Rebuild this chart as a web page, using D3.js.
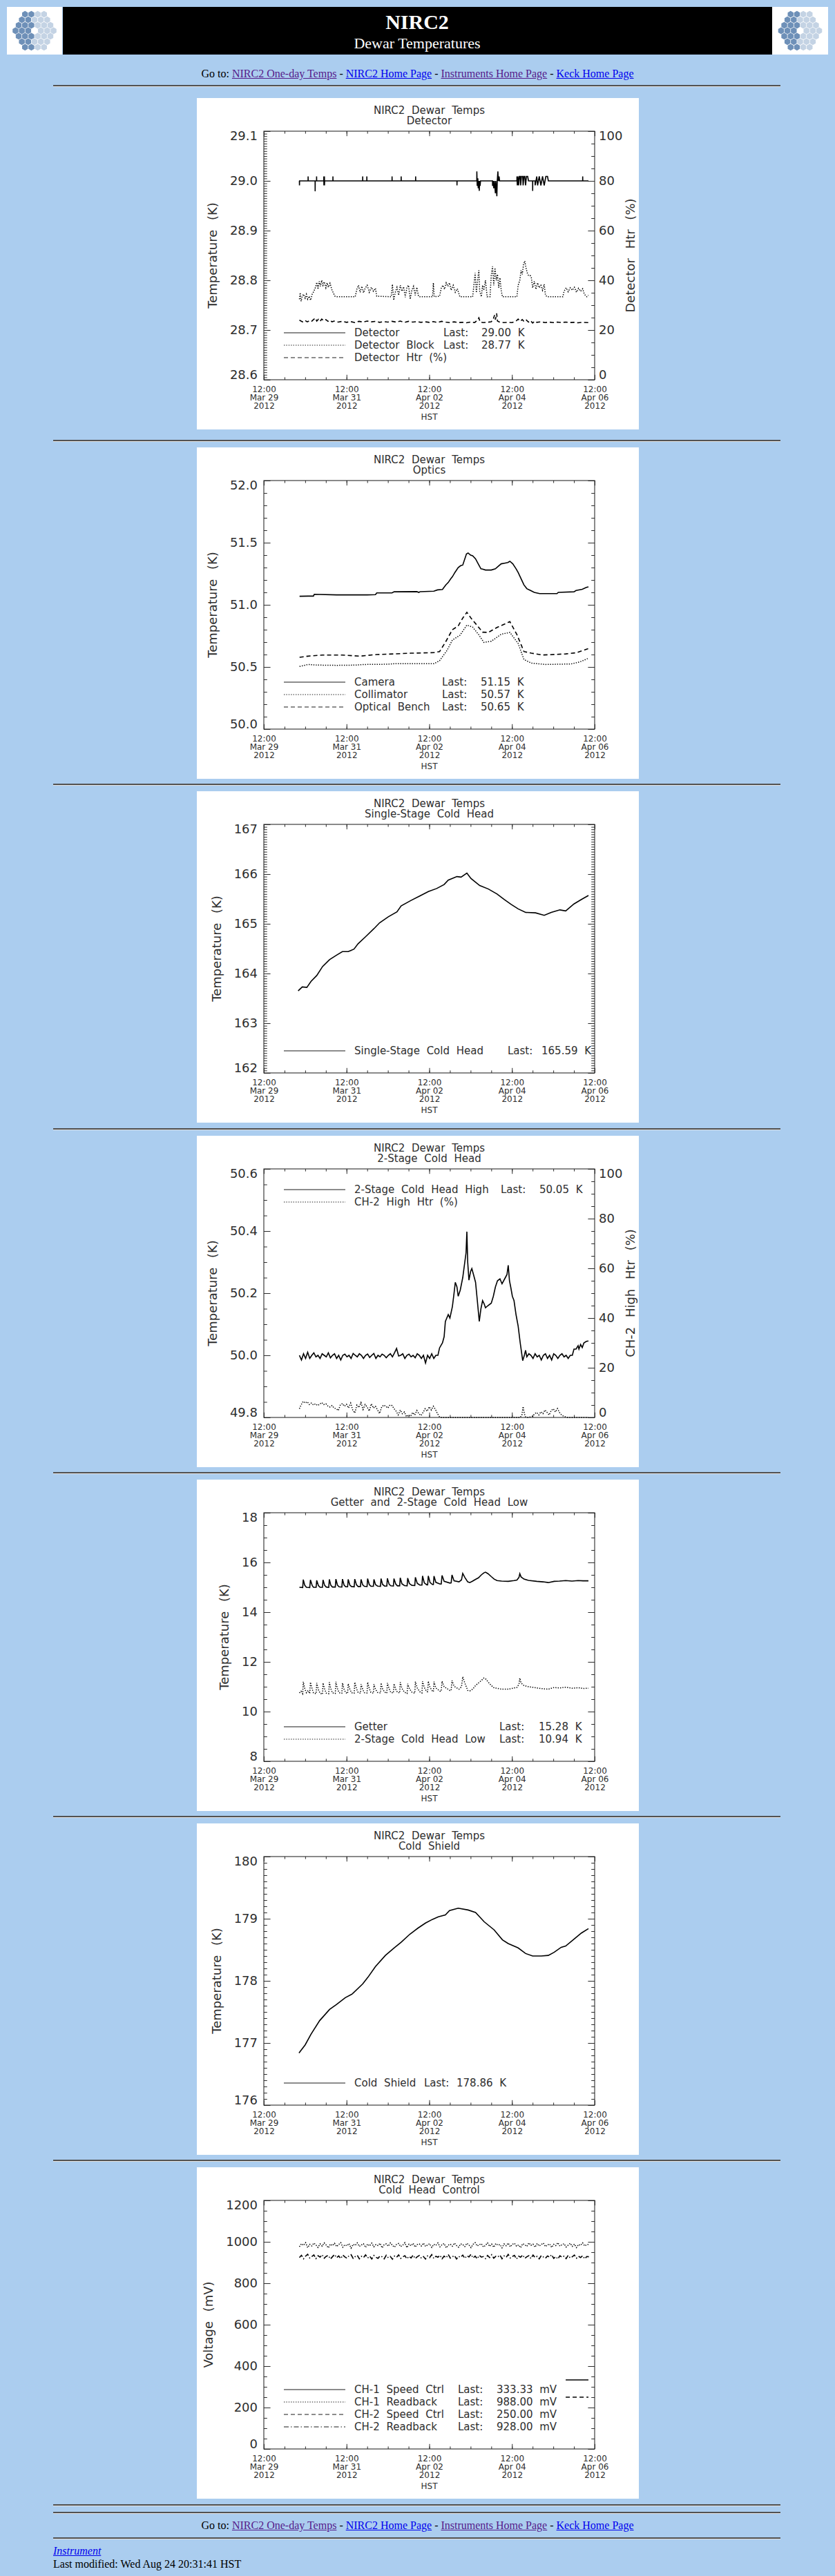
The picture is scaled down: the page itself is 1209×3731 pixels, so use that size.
<!DOCTYPE html>
<html lang="en">
<head>
<meta charset="UTF-8">
<title>NIRC2 Dewar Temperatures</title>
<script src="https://d3js.org/d3.v7.min.js"></script>
<style>
  body { margin: 0; background: #abcdef; font-family: "Liberation Serif", "Times New Roman", serif; }
  #page { position: relative; width: 1209px; height: 3731px; overflow: hidden; }
  .rule { position: absolute; left: 77px; width: 1053px; height: 0; border-top: 2px solid #525252; border-bottom: 1px solid #e2e2e2; }
  .goto { position: absolute; left: 0; width: 1209px; text-align: center; font-size: 16px; line-height: 20px; }
  a { color: #0000ee; }
  a.seen { color: #551a8b; }
  .plot { position: absolute; left: 285px; display: block; background: #fff; }
  .plot text { font-family: "DejaVu Sans", sans-serif; fill: #2e2e2e; word-spacing: 5px; }
  .plot .ylab { font-size: 18px; word-spacing: 0; }
  .plot .xlab { font-size: 12px; word-spacing: 0; }
</style>
</head>
<body>
<div id="page"></div>
<script>
// all times are days after 12:00 Mar 29 2012 HST
const t0 = Date.UTC(2012, 2, 29, 12);
const t1 = Date.UTC(2012, 3, 6, 12);

// ---------- Detector ----------
const detectorK = [[0.86,29.0],[0.862,28.991],[0.864,29.0],[1.07,29.0],[1.071,29.009],[1.073,29.0],[1.24,29.0],[1.241,28.979],[1.243,29.0],[1.275,29.0],[1.276,29.009],[1.278,29.0],[1.45,29.0],[1.451,29.009],[1.453,28.991],[1.465,29.009],[1.467,28.991],[1.47,29.0],[1.67,29.0],[1.671,29.009],[1.673,29.0],[2.39,29.0],[2.391,29.009],[2.393,29.0],[2.49,29.0],[2.491,29.009],[2.493,29.0],[3.1,29.0],[3.101,29.009],[3.103,29.0],[3.32,29.0],[3.321,29.009],[3.323,29.0],[3.67,29.0],[3.671,29.009],[3.673,29.0],[4.67,29.0],[4.671,28.991],[4.673,29.0],[5.15,29.0],[5.151,29.019],[5.16,28.99],[5.175,29.005],[5.185,28.985],[5.2,29.0],[5.21,28.98],[5.22,29.0],[5.23,28.99],[5.24,29.0],[5.53,29.0],[5.531,28.99],[5.545,29.0],[5.56,28.985],[5.575,29.0],[5.6,28.975],[5.61,29.0],[5.635,28.969],[5.645,29.0],[5.66,29.019],[5.67,29.0],[5.69,29.009],[5.7,29.0],[6.12,29.0],[6.121,29.009],[6.13,28.991],[6.145,29.009],[6.16,28.991],[6.18,29.009],[6.2,29.009],[6.21,28.991],[6.23,29.009],[6.26,29.009],[6.27,28.991],[6.29,29.009],[6.31,29.009],[6.33,28.991],[6.35,29.009],[6.38,29.009],[6.4,29.0],[6.5,29.0],[6.501,28.98],[6.503,29.0],[6.56,29.0],[6.561,28.991],[6.6,29.009],[6.62,28.991],[6.66,29.009],[6.7,28.991],[6.74,29.009],[6.78,28.991],[6.82,29.009],[6.86,29.009],[6.88,29.0],[7.71,29.0],[7.711,29.009],[7.713,29.0],[7.85,29.0]];
const detectorBlockK = [[0.86,28.762],[0.88,28.775],[0.9,28.758],[0.93,28.768],[0.96,28.772],[1.0,28.764],[1.03,28.772],[1.06,28.762],[1.1,28.768],[1.13,28.76],[1.17,28.772],[1.21,28.778],[1.25,28.786],[1.28,28.796],[1.31,28.782],[1.34,28.798],[1.37,28.788],[1.4,28.8],[1.43,28.79],[1.46,28.797],[1.5,28.785],[1.53,28.795],[1.56,28.786],[1.6,28.794],[1.65,28.78],[1.72,28.768],[1.76,28.767],[2.21,28.767],[2.25,28.782],[2.29,28.79],[2.33,28.776],[2.37,28.788],[2.41,28.775],[2.45,28.784],[2.5,28.79],[2.55,28.776],[2.6,28.786],[2.65,28.778],[2.7,28.784],[2.73,28.768],[3.08,28.767],[3.11,28.792],[3.14,28.76],[3.18,28.776],[3.22,28.786],[3.26,28.77],[3.3,28.79],[3.34,28.778],[3.38,28.787],[3.42,28.766],[3.46,28.786],[3.5,28.79],[3.54,28.762],[3.58,28.78],[3.62,28.788],[3.66,28.77],[3.7,28.786],[3.74,28.768],[3.77,28.767],[4.08,28.767],[4.1,28.795],[4.12,28.767],[4.25,28.768],[4.29,28.784],[4.33,28.79],[4.37,28.782],[4.41,28.795],[4.45,28.788],[4.49,28.795],[4.53,28.78],[4.58,28.79],[4.63,28.776],[4.68,28.783],[4.74,28.767],[5.05,28.767],[5.08,28.79],[5.11,28.815],[5.14,28.775],[5.17,28.8],[5.2,28.82],[5.22,28.778],[5.26,28.767],[5.29,28.79],[5.32,28.78],[5.36,28.8],[5.4,28.767],[5.47,28.767],[5.5,28.81],[5.53,28.828],[5.56,28.79],[5.59,28.825],[5.62,28.8],[5.65,28.812],[5.68,28.785],[5.71,28.805],[5.74,28.78],[5.77,28.767],[6.12,28.767],[6.15,28.79],[6.19,28.8],[6.22,28.82],[6.25,28.812],[6.28,28.832],[6.31,28.839],[6.34,28.825],[6.37,28.815],[6.4,28.81],[6.44,28.81],[6.47,28.805],[6.5,28.785],[6.54,28.798],[6.58,28.782],[6.62,28.795],[6.66,28.785],[6.7,28.79],[6.74,28.78],[6.78,28.792],[6.81,28.77],[6.85,28.767],[7.23,28.767],[7.26,28.778],[7.31,28.785],[7.36,28.777],[7.41,28.785],[7.46,28.78],[7.51,28.786],[7.56,28.776],[7.61,28.784],[7.66,28.778],[7.71,28.783],[7.75,28.772],[7.81,28.767],[7.85,28.77]];
const detectorHtrPct = [[0.86,24.0],[0.9,23.6],[0.95,23.2],[1.0,23.8],[1.05,23.3],[1.1,23.7],[1.15,23.4],[1.2,24.2],[1.25,24.8],[1.28,23.6],[1.32,24.3],[1.36,23.5],[1.4,24.4],[1.45,23.7],[1.5,24.2],[1.55,23.5],[1.6,23.9],[1.65,23.3],[1.7,23.6],[1.8,23.2],[1.9,23.5],[2.0,23.1],[2.1,23.4],[2.2,23.0],[2.3,23.5],[2.4,23.2],[2.5,23.6],[2.6,23.3],[2.7,23.5],[2.8,23.1],[2.9,23.4],[3.0,23.2],[3.1,23.5],[3.2,23.2],[3.3,23.6],[3.4,23.1],[3.5,23.5],[3.6,23.2],[3.7,23.4],[3.8,23.1],[3.9,23.3],[4.0,23.1],[4.1,23.4],[4.2,23.0],[4.3,23.5],[4.4,23.2],[4.5,23.0],[4.6,23.3],[4.7,23.0],[4.8,23.1],[4.9,22.9],[5.0,23.2],[5.1,23.0],[5.15,23.8],[5.2,24.9],[5.23,23.2],[5.3,23.0],[5.4,23.1],[5.5,23.3],[5.55,24.5],[5.58,26.0],[5.6,24.2],[5.63,26.7],[5.65,23.6],[5.7,23.2],[5.8,23.0],[5.9,23.1],[6.0,23.0],[6.1,23.6],[6.15,24.4],[6.2,23.5],[6.25,24.2],[6.3,23.3],[6.35,24.0],[6.4,23.2],[6.45,23.8],[6.5,22.8],[6.55,23.6],[6.6,23.1],[6.7,23.3],[6.8,23.0],[6.9,23.2],[7.0,23.0],[7.1,23.2],[7.2,23.0],[7.3,23.2],[7.4,23.0],[7.5,23.1],[7.6,22.9],[7.7,23.1],[7.85,23.0]];
const detectorNames = ["Detector", "Detector Block", "Detector Htr (%)"];
const detectorLast = ["29.00 K", "28.77 K", null];

// ---------- Optics ----------
const cameraK = [[0.864,51.069],[1.07,51.07],[1.2,51.07],[1.22,51.085],[1.76,51.08],[2.0,51.08],[2.5,51.08],[2.7,51.082],[2.73,51.096],[3.1,51.096],[3.15,51.105],[3.7,51.106],[3.75,51.1],[3.78,51.106],[4.11,51.11],[4.2,51.12],[4.32,51.124],[4.4,51.16],[4.46,51.18],[4.52,51.21],[4.56,51.226],[4.62,51.26],[4.7,51.3],[4.76,51.315],[4.81,51.32],[4.86,51.37],[4.9,51.41],[4.94,51.417],[5.0,51.4],[5.05,51.395],[5.12,51.37],[5.2,51.32],[5.25,51.29],[5.29,51.287],[5.36,51.28],[5.43,51.28],[5.5,51.28],[5.6,51.29],[5.67,51.31],[5.74,51.33],[5.82,51.335],[5.9,51.34],[5.95,51.35],[6.02,51.33],[6.1,51.29],[6.15,51.26],[6.22,51.21],[6.29,51.16],[6.36,51.13],[6.45,51.115],[6.54,51.1],[6.67,51.09],[6.9,51.09],[7.09,51.09],[7.12,51.1],[7.5,51.105],[7.55,51.115],[7.7,51.125],[7.8,51.14],[7.85,51.145]];
const collimatorK = [[0.864,50.504],[1.07,50.52],[1.3,50.515],[1.76,50.513],[2.2,50.515],[2.45,50.52],[3.0,50.522],[3.15,50.526],[3.6,50.526],[4.11,50.526],[4.25,50.55],[4.43,50.633],[4.56,50.717],[4.74,50.754],[4.91,50.837],[5.05,50.82],[5.19,50.763],[5.32,50.698],[5.5,50.707],[5.74,50.763],[5.95,50.778],[6.15,50.689],[6.29,50.56],[6.47,50.531],[6.81,50.52],[7.43,50.524],[7.64,50.54],[7.85,50.57]];
const benchK = [[0.864,50.578],[1.07,50.587],[1.42,50.596],[1.9,50.596],[2.32,50.587],[2.73,50.6],[3.15,50.605],[3.56,50.611],[4.11,50.615],[4.25,50.624],[4.39,50.698],[4.56,50.8],[4.7,50.83],[4.81,50.893],[4.91,50.94],[5.01,50.893],[5.15,50.837],[5.29,50.78],[5.43,50.778],[5.64,50.818],[5.77,50.837],[5.95,50.865],[6.12,50.76],[6.29,50.624],[6.47,50.611],[6.74,50.596],[7.3,50.605],[7.57,50.615],[7.85,50.648]];
const opticsNames = ["Camera", "Collimator", "Optical Bench"];
const opticsLast = ["51.15 K", "50.57 K", "50.65 K"];

// ---------- Single-Stage Cold Head ----------
const singleStageK = [[0.83,163.65],[0.93,163.73],[1.04,163.72],[1.14,163.84],[1.28,163.96],[1.42,164.14],[1.59,164.28],[1.76,164.37],[1.9,164.44],[2.04,164.44],[2.18,164.49],[2.28,164.6],[2.46,164.74],[2.66,164.9],[2.8,165.02],[3.01,165.14],[3.22,165.24],[3.32,165.36],[3.56,165.47],[3.77,165.56],[3.98,165.65],[4.18,165.71],[4.36,165.79],[4.46,165.88],[4.67,165.95],[4.77,165.94],[4.91,166.02],[5.01,165.91],[5.22,165.77],[5.43,165.7],[5.64,165.6],[5.81,165.49],[5.98,165.39],[6.15,165.3],[6.33,165.23],[6.57,165.22],[6.78,165.17],[6.95,165.23],[7.16,165.28],[7.3,165.26],[7.5,165.4],[7.68,165.49],[7.85,165.57]];
const singleStageNames = ["Single-Stage Cold Head"];
const singleStageLast = ["165.59 K"];

// ---------- 2-Stage Cold Head ----------
const ch2HighEarly = [50.0,49.985,50.005,49.99,50.01,49.99,50.0,50.008,49.995,50.0,49.99,50.005,50.0,49.995,50.008,49.992,50.0,50.005,49.99,50.0,49.985,50.0,50.004,49.995,50.0,49.99,50.006,50.0,49.995,50.005,50.0,49.99,50.0,50.004,49.993,50.0,50.006,49.99,50.0,49.995,50.004,50.0,49.992,50.0,50.005,49.995,50.008,50.022,49.998,50.0,50.005,49.99,50.0,50.004,49.995,50.0,49.992,50.005,50.0,49.99,50.0,49.975,50.0,49.99,50.005,49.99,50.0,50.0];
const ch2HighPeak = [[4.25,50.024],[4.32,50.04],[4.36,50.06],[4.39,50.109],[4.46,50.131],[4.5,50.12],[4.56,50.157],[4.6,50.2],[4.63,50.235],[4.67,50.22],[4.7,50.19],[4.75,50.21],[4.81,50.25],[4.86,50.3],[4.89,50.33],[4.91,50.398],[4.93,50.3],[4.96,50.242],[5.0,50.27],[5.03,50.279],[5.07,50.26],[5.12,50.235],[5.16,50.18],[5.21,50.109],[5.25,50.15],[5.29,50.176],[5.33,50.165],[5.36,50.153],[5.42,50.16],[5.5,50.168],[5.55,50.19],[5.6,50.22],[5.65,50.24],[5.71,50.246],[5.76,50.23],[5.84,50.25],[5.88,50.26],[5.91,50.29],[5.94,50.24],[5.97,50.22],[6.01,50.19],[6.05,50.176],[6.1,50.13],[6.15,50.094],[6.2,50.04],[6.26,49.983],[6.3,50.0],[6.33,50.016]];
const ch2HighLate = [49.995,50.005,50.0,49.99,50.005,49.995,50.0,49.985,50.0,50.005,49.99,50.0,49.985,50.005,50.0,49.99,50.0,50.005,49.995,50.0,49.99,50.0,50.0];
const ch2HighEnd = [[7.5,50.02],[7.55,50.02],[7.6,50.031],[7.62,50.02],[7.66,50.035],[7.7,50.025],[7.74,50.04],[7.8,50.045],[7.85,50.046]];
const ch2HtrPct = [[0.86,3.5],[0.9,5.0],[0.95,6.5],[1.0,5.8],[1.05,6.3],[1.1,5.2],[1.15,5.8],[1.2,5.0],[1.25,5.5],[1.3,4.8],[1.35,5.3],[1.4,6.0],[1.45,5.2],[1.5,5.5],[1.55,4.6],[1.6,4.2],[1.65,4.8],[1.7,3.8],[1.75,3.5],[1.8,2.8],[1.85,5.0],[1.9,5.6],[1.95,4.5],[2.0,5.3],[2.05,3.8],[2.1,5.8],[2.15,3.0],[2.2,1.8],[2.25,5.0],[2.3,4.0],[2.35,6.0],[2.4,3.2],[2.45,5.2],[2.5,4.2],[2.55,2.6],[2.6,5.5],[2.65,3.8],[2.7,4.5],[2.75,3.0],[2.8,1.6],[2.85,4.2],[2.9,5.0],[2.95,4.5],[3.0,3.8],[3.05,5.0],[3.1,4.8],[3.15,3.5],[3.2,2.5],[3.25,1.0],[3.3,3.0],[3.35,1.5],[3.4,2.2],[3.45,0.3],[3.5,1.0],[3.55,0.5],[3.6,2.0],[3.65,1.0],[3.7,2.8],[3.75,1.5],[3.8,0.8],[3.85,2.0],[3.9,3.5],[3.95,2.5],[4.0,4.3],[4.05,3.0],[4.1,4.5],[4.15,3.2],[4.2,1.5],[4.25,0.2],[4.3,0],[6.2,0],[6.24,1.0],[6.27,4.4],[6.3,1.5],[6.33,0.2],[6.4,0],[6.5,0.5],[6.55,1.5],[6.6,2.0],[6.65,1.0],[6.7,2.3],[6.75,1.5],[6.8,3.0],[6.85,2.0],[6.9,1.0],[6.95,2.8],[7.0,3.5],[7.05,2.2],[7.1,3.6],[7.15,2.0],[7.2,1.0],[7.25,0.5],[7.3,0.2],[7.35,0],[7.85,0]];
const ch2Names = ["2-Stage Cold Head High", "CH-2 High Htr (%)"];
const ch2Last = ["50.05 K", null];

// ---------- Getter and 2-Stage Cold Head Low ----------
const getterK = [[0.86,15.0],[0.94,14.99],[0.954,15.31],[0.99,15.08],[1.03,15.0],[1.11,14.99],[1.127,15.3],[1.17,15.07],[1.2,15.0],[1.265,15.0],[1.279,15.28],[1.32,15.07],[1.36,15.0],[1.418,15.0],[1.432,15.3],[1.47,15.08],[1.51,15.01],[1.57,15.0],[1.584,15.32],[1.62,15.08],[1.66,15.01],[1.728,15.01],[1.743,15.33],[1.78,15.09],[1.82,15.02],[1.887,15.01],[1.902,15.33],[1.94,15.09],[1.98,15.02],[2.026,15.02],[2.04,15.32],[2.08,15.09],[2.12,15.03],[2.185,15.02],[2.199,15.33],[2.24,15.1],[2.28,15.03],[2.337,15.03],[2.351,15.32],[2.39,15.1],[2.43,15.04],[2.496,15.03],[2.51,15.35],[2.55,15.11],[2.59,15.04],[2.649,15.04],[2.663,15.32],[2.7,15.11],[2.75,15.05],[2.821,15.04],[2.835,15.35],[2.87,15.12],[2.92,15.05],[2.974,15.05],[2.988,15.36],[3.03,15.12],[3.07,15.06],[3.133,15.05],[3.147,15.35],[3.19,15.13],[3.23,15.06],[3.285,15.06],[3.299,15.38],[3.34,15.14],[3.4,15.07],[3.465,15.06],[3.479,15.37],[3.52,15.15],[3.58,15.08],[3.65,15.07],[3.665,15.4],[3.71,15.16],[3.77,15.09],[3.824,15.09],[3.838,15.46],[3.88,15.18],[3.94,15.1],[3.962,15.1],[3.977,15.46],[4.02,15.19],[4.08,15.11],[4.1,15.11],[4.115,15.45],[4.16,15.2],[4.26,15.13],[4.29,15.13],[4.31,15.48],[4.36,15.24],[4.5,15.17],[4.53,15.18],[4.55,15.5],[4.6,15.26],[4.72,15.22],[4.78,15.3],[4.81,15.56],[4.86,15.4],[4.93,15.22],[4.98,15.19],[5.05,15.25],[5.12,15.32],[5.19,15.38],[5.26,15.5],[5.32,15.58],[5.36,15.61],[5.42,15.55],[5.5,15.43],[5.57,15.33],[5.64,15.27],[5.75,15.25],[5.91,15.24],[6.05,15.27],[6.12,15.29],[6.17,15.4],[6.19,15.55],[6.22,15.42],[6.29,15.33],[6.4,15.28],[6.6,15.24],[6.75,15.22],[6.88,15.19],[7.02,15.24],[7.15,15.25],[7.3,15.27],[7.45,15.25],[7.6,15.27],[7.72,15.26],[7.85,15.26]];
const ch2LowK = [[0.86,10.75],[0.9,10.82],[0.94,10.72],[0.954,11.2],[0.99,10.92],[1.03,10.76],[1.07,10.85],[1.11,10.73],[1.127,11.18],[1.17,10.9],[1.2,10.75],[1.265,10.72],[1.279,11.15],[1.32,10.88],[1.36,10.74],[1.418,10.7],[1.432,11.15],[1.47,10.9],[1.51,10.74],[1.57,10.72],[1.584,11.18],[1.62,10.92],[1.66,10.75],[1.728,10.73],[1.743,11.2],[1.78,10.92],[1.82,10.76],[1.887,10.74],[1.902,11.15],[1.94,10.9],[1.98,10.76],[2.026,10.73],[2.04,11.12],[2.08,10.9],[2.12,10.76],[2.185,10.74],[2.199,11.18],[2.24,10.92],[2.28,10.77],[2.337,10.74],[2.351,11.1],[2.39,10.9],[2.43,10.76],[2.496,10.75],[2.51,11.18],[2.55,10.93],[2.59,10.77],[2.649,10.74],[2.663,11.1],[2.7,10.9],[2.75,10.77],[2.821,10.75],[2.835,11.15],[2.87,10.92],[2.92,10.78],[2.974,10.74],[2.988,11.15],[3.03,10.92],[3.07,10.77],[3.133,10.75],[3.147,11.12],[3.19,10.9],[3.23,10.78],[3.285,10.75],[3.299,11.18],[3.34,10.93],[3.4,10.78],[3.465,10.73],[3.479,11.12],[3.52,10.92],[3.58,10.78],[3.65,10.74],[3.665,11.2],[3.71,10.95],[3.77,10.8],[3.824,10.75],[3.838,11.22],[3.88,10.97],[3.94,10.8],[3.962,10.8],[3.977,11.22],[4.02,10.97],[4.08,10.82],[4.1,10.8],[4.115,11.2],[4.16,10.95],[4.26,10.82],[4.29,10.82],[4.31,11.22],[4.36,11.0],[4.5,10.85],[4.53,10.85],[4.55,11.25],[4.6,11.02],[4.72,10.9],[4.78,11.0],[4.81,11.4],[4.86,11.15],[4.93,10.85],[4.98,10.83],[5.05,10.9],[5.12,11.05],[5.19,11.15],[5.26,11.25],[5.32,11.35],[5.36,11.32],[5.42,11.2],[5.5,11.05],[5.57,10.95],[5.64,10.94],[5.75,10.9],[5.91,10.9],[6.05,10.95],[6.12,10.97],[6.17,11.1],[6.19,11.35],[6.22,11.15],[6.29,11.05],[6.4,11.0],[6.6,10.95],[6.75,10.92],[6.88,10.9],[7.02,10.97],[7.15,10.95],[7.3,10.98],[7.45,10.94],[7.6,10.96],[7.72,10.93],[7.85,10.94]];
const getterNames = ["Getter", "2-Stage Cold Head Low"];
const getterLast = ["15.28 K", "10.94 K"];

// ---------- Cold Shield ----------
const coldShieldK = [[0.85,176.84],[1.0,176.97],[1.14,177.14],[1.35,177.36],[1.59,177.54],[1.76,177.62],[1.97,177.73],[2.14,177.79],[2.39,177.95],[2.52,178.06],[2.7,178.23],[2.94,178.41],[3.15,178.53],[3.32,178.62],[3.53,178.75],[3.73,178.85],[3.91,178.93],[4.08,178.99],[4.22,179.03],[4.39,179.06],[4.49,179.13],[4.7,179.17],[4.94,179.14],[5.12,179.1],[5.33,178.95],[5.57,178.82],[5.77,178.66],[5.91,178.6],[6.15,178.53],[6.33,178.44],[6.5,178.4],[6.71,178.4],[6.88,178.41],[7.02,178.46],[7.19,178.54],[7.3,178.56],[7.5,178.67],[7.68,178.77],[7.85,178.84]];
const coldShieldNames = ["Cold Shield"];
const coldShieldLast = ["178.86 K"];

// ---------- Cold Head Control ----------
const readbackStart = 0.86, readbackStep = 0.05;
const ch1ReadbackMV = [976,991,983,996,972,988,980,994,985,973,990,979,995,984,971,989,982,993,977,987,996,974,986,981,992,970,988,983,995,978,985,991,973,989,980,994,976,987,982,993,971,986,990,979,995,983,974,988,992,977,984,996,972,989,981,993,975,987,990,980,994,978,985,991,973,988,983,995,976,986,992,971,984,989,979,994,982,974,990,987,977,993,985,972,988,996,980,986,991,975,983,995,978,989,974,992,984,987,971,990,981,994,976,988,993,979,985,972,991,986,978,995,983,989,974,992,980,987,994,977,985,990,973,988,982,996,979,986,991,975,984,993,978,989,972,987,983,995,980,986,988];
const ch2ReadbackMV = [924,935,918,931,940,922,929,937,919,933,926,938,921,930,934,917,928,939,923,932,919,936,927,921,933,938,920,929,935,918,930,924,937,922,931,917,934,926,920,932,928,918,935,923,929,916,931,925,937,920,927,933,918,930,922,936,919,928,934,921,929,917,932,924,938,920,930,926,935,918,931,923,939,921,928,934,917,930,925,936,920,933,927,940,922,931,918,935,926,929,919,934,924,938,921,930,927,936,918,932,925,939,922,929,935,917,931,926,937,920,928,933,919,936,924,930,918,934,927,921,932,926,938,920,929,917,933,925,931,919,935,922,928,936,921,930,924,933,918,929,928];
const ch1SpeedMV = [[7.3,333.33],[7.85,333.33]];
const ch2SpeedMV = [[7.3,250.0],[7.85,250.0]];
const controlNames = ["CH-1 Speed Ctrl", "CH-1 Readback", "CH-2 Speed Ctrl", "CH-2 Readback"];
const controlLast = ["333.33 mV", "988.00 mV", "250.00 mV", "928.00 mV"];

const goToLinks = ["NIRC2 One-day Temps", "NIRC2 Home Page", "Instruments Home Page", "Keck Home Page"];

// regular samples -> [day, value]
const sampled = (start, step, vals) => vals.map((v, k) => [start + k * step, v]);

const charts = [
  { sub: "Detector", y: [28.6, 29.1], step: 0.1, minor: 0.005, fmt: ".1f", title: "Temperature (K)",
    right: { y: [0, 100], step: 20, minor: 5, title: "Detector Htr (%)" },
    series: [[detectorK, "solid"], [detectorBlockK, "dot"], [detectorHtrPct, "dash", true]],
    names: detectorNames, last: detectorLast, styles: ["solid", "dot", "dash"], top: false, lastX: 357, valX: 412 },
  { sub: "Optics", y: [50, 52], step: 0.5, minor: 0.1, fmt: ".1f", title: "Temperature (K)",
    series: [[cameraK, "solid"], [collimatorK, "dot"], [benchK, "dash"]],
    names: opticsNames, last: opticsLast, styles: ["solid", "dot", "dash"], top: false, lastX: 355, valX: 411 },
  { sub: "Single-Stage Cold Head", y: [162, 167], step: 1, minor: 0.05, fmt: "d", title: "Temperature (K)",
    series: [[singleStageK, "solid"]],
    names: singleStageNames, last: singleStageLast, styles: ["solid"], top: false, lastX: 450, valX: 499 },
  { sub: "2-Stage Cold Head", y: [49.8, 50.6], step: 0.2, minor: 0.05, fmt: ".1f", title: "Temperature (K)",
    right: { y: [0, 100], step: 20, minor: 5, title: "CH-2 High Htr (%)" },
    series: [[sampled(0.86, 0.05, ch2HighEarly).concat(ch2HighPeak, sampled(6.36, 0.05, ch2HighLate), ch2HighEnd), "solid"], [ch2HtrPct, "dot", true]],
    names: ch2Names, last: ch2Last, styles: ["solid", "dot"], top: true, lastX: 440, valX: 496 },
  { sub: "Getter and 2-Stage Cold Head Low", y: [8, 18], step: 2, minor: 0.5, fmt: "d", title: "Temperature (K)",
    series: [[getterK, "solid"], [ch2LowK, "dot"]],
    names: getterNames, last: getterLast, styles: ["solid", "dot"], top: false, lastX: 438, valX: 495 },
  { sub: "Cold Shield", y: [176, 180], step: 1, minor: 0.1, fmt: "d", title: "Temperature (K)",
    series: [[coldShieldK, "solid"]],
    names: coldShieldNames, last: coldShieldLast, styles: ["solid"], top: false, lastX: 329, valX: 376 },
  { sub: "Cold Head Control", y: [0, 1200], step: 200, minor: 50, fmt: "d", title: "Voltage (mV)",
    series: [[ch1SpeedMV, "solid"], [sampled(readbackStart, readbackStep, ch1ReadbackMV), "dot"], [ch2SpeedMV, "dash"], [sampled(readbackStart, readbackStep, ch2ReadbackMV), "dashdot"]],
    names: controlNames, last: controlLast, styles: ["solid", "dot", "dash", "dashdot"], top: false, lastX: 378, valX: 434 }
];

const boxTops = [142, 648, 1146, 1645, 2143, 2641, 3139];
const rules = [124, 638, 1136, 1635, 2133, 2631, 3129, 3628, 3639, 3676];

const lineStyles = {
  solid: { dash: null, w: 1.6 },
  dot: { dash: "1.4,2", w: 1.5 },
  dash: { dash: "6,4", w: 1.6 },
  dashdot: { dash: "7,3,1.5,3", w: 1.6 }
};

const page = d3.select("#page");

// ---------- header ----------
function logo(left, width) {
  const s = page.append("svg").style("position", "absolute").style("left", left + "px").style("top", "10px")
    .attr("width", width).attr("height", 69);
  s.append("rect").attr("width", width).attr("height", 69).attr("fill", "#fff");
  const R = 5.3, cx = width / 2, cy = 34.5;
  const hex = d3.range(6).map(k => [R * 0.92 * Math.cos(Math.PI / 6 + k * Math.PI / 3), R * 0.92 * Math.sin(Math.PI / 6 + k * Math.PI / 3)]);
  for (let q = -3; q <= 3; q++) {
    for (let r = -3; r <= 3; r++) {
      if (Math.abs(q + r) > 3 || (q === 0 && r === 0)) continue;
      const px = cx + Math.sqrt(3) * R * (q + r / 2), py = cy + 1.5 * R * r;
      s.append("polygon").attr("points", hex.map(p => [px + p[0], py + p[1]].join(",")).join(" "))
        .attr("fill", (q + r / 2) < 0 ? "#6e90b8" : "#c4d3e4");
    }
  }
}
logo(10, 80);
logo(1118, 81);
const banner = page.append("svg").style("position", "absolute").style("left", "91px").style("top", "10px")
  .attr("width", 1027).attr("height", 69);
banner.append("rect").attr("width", 1027).attr("height", 69).attr("fill", "#000");
banner.append("text").attr("x", 513).attr("y", 32).attr("text-anchor", "middle")
  .attr("fill", "#fff").attr("font-family", "Liberation Serif").attr("font-weight", "bold").attr("font-size", 30).text("NIRC2");
banner.append("text").attr("x", 513).attr("y", 60).attr("text-anchor", "middle")
  .attr("fill", "#fff").attr("font-family", "Liberation Serif").attr("font-size", 22).text("Dewar Temperatures");

function goTo(top) {
  const d = page.append("div").attr("class", "goto").style("top", top + "px");
  d.append("span").text("Go to: ");
  goToLinks.forEach((name, k) => {
    if (k) d.append("span").text(" - ");
    d.append("a").attr("href", "#").attr("class", k % 2 === 0 ? "seen" : null).text(name);
  });
}
goTo(97);
goTo(3648);
rules.forEach(y => page.append("div").attr("class", "rule").style("top", (y - 1) + "px"));

page.append("div").style("position", "absolute").style("left", "77px").style("top", "3685px")
  .style("font-size", "16px").style("line-height", "20px").style("font-style", "italic")
  .append("a").attr("href", "#").text("Instrument");
page.append("div").style("position", "absolute").style("left", "77px").style("top", "3704px")
  .style("font-size", "16px").style("line-height", "20px").text("Last modified: Wed Aug 24 20:31:41 HST");

// ---------- plots ----------
const X0 = 97, X1 = 576, Y0 = 48, Y1 = 408;
const stepRange = (lo, hi, step) => d3.range(Math.round((hi - lo) / step) + 1).map(k => lo + k * step);

function tickAxis(svg, gen, transform, values, size, fmt) {
  return svg.append("g").attr("transform", transform).style("color", "#2a2a2a")
    .call(gen.tickValues(values).tickSizeInner(-size).tickSizeOuter(0).tickFormat(fmt || (() => "")))
    .call(g => g.select(".domain").remove());
}

function endShift(g, dom) {
  g.selectAll(".tick text").attr("class", "ylab")
    .attr("y", d => Math.abs(d - dom[1]) < 1e-9 ? 7 : Math.abs(d - dom[0]) < 1e-9 ? -7 : 0);
}

charts.forEach((c, i) => {
  const svg = page.append("svg").attr("class", "plot").attr("width", 640).attr("height", 480)
    .style("top", boxTops[i] + "px");
  const x = d3.scaleUtc().domain([new Date(t0), new Date(t1)]).range([X0, X1]);
  const y = d3.scaleLinear().domain(c.y).range([Y1, Y0]);
  const yr = c.right ? d3.scaleLinear().domain(c.right.y).range([Y1, Y0]) : null;

  svg.append("text").attr("x", (X0 + X1) / 2).attr("y", 23).attr("text-anchor", "middle")
    .attr("font-size", 15).text("NIRC2 Dewar Temps");
  svg.append("text").attr("x", (X0 + X1) / 2).attr("y", 38).attr("text-anchor", "middle")
    .attr("font-size", 15).text(c.sub);

  // x axes
  const xMaj = d3.utcHour.range(new Date(t0), new Date(t1 + 1), 48);
  const xMin = d3.utcHour.range(new Date(t0), new Date(t1 + 1), 12);
  tickAxis(svg, d3.axisBottom(x), `translate(0,${Y1})`, xMin, 3.6);
  tickAxis(svg, d3.axisTop(x), `translate(0,${Y0})`, xMin, 3.6);
  tickAxis(svg, d3.axisTop(x), `translate(0,${Y0})`, xMaj, 7.2);
  const xb = tickAxis(svg, d3.axisBottom(x), `translate(0,${Y1})`, xMaj, 7.2, d3.utcFormat("%H:%M"));
  const lineFmt = [d3.utcFormat("%H:%M"), d3.utcFormat("%b %d"), d3.utcFormat("%Y")];
  xb.selectAll(".tick text").each(function (d) {
    const t = d3.select(this).attr("class", "xlab").attr("dy", null).attr("y", null).text(null);
    [17.7, 30.1, 41.7].forEach((dy, k) => t.append("tspan").attr("x", 0).attr("y", dy).text(lineFmt[k](d)));
  });
  svg.append("text").attr("class", "xlab").attr("x", (X0 + X1) / 2).attr("y", 465.7)
    .attr("text-anchor", "middle").text("HST");

  // left axis
  const yMaj = stepRange(c.y[0], c.y[1], c.step);
  const yMin = stepRange(c.y[0], c.y[1], c.minor);
  tickAxis(svg, d3.axisLeft(y), `translate(${X0},0)`, yMin, 4.8);
  const yl = tickAxis(svg, d3.axisLeft(y).tickPadding(9), `translate(${X0},0)`, yMaj, 9.6, d3.format(c.fmt));
  endShift(yl, c.y);
  const maxW = d3.max(yl.selectAll(".tick text").nodes(), n => n.getComputedTextLength());
  const titleX = X0 - 9 - maxW - 19;
  svg.append("text").attr("transform", `translate(${titleX},${(Y0 + Y1) / 2}) rotate(-90)`)
    .attr("text-anchor", "middle").attr("font-size", 18).style("word-spacing", "8px").text(c.title);

  // right axis
  if (yr) {
    const rMaj = stepRange(c.right.y[0], c.right.y[1], c.right.step);
    const rMin = stepRange(c.right.y[0], c.right.y[1], c.right.minor);
    tickAxis(svg, d3.axisRight(yr), `translate(${X1},0)`, rMin, 4.8);
    const ra = tickAxis(svg, d3.axisRight(yr).tickPadding(6), `translate(${X1},0)`, rMaj, 9.6, d3.format("d"));
    endShift(ra, c.right.y);
    svg.append("text").attr("transform", `translate(634,${(Y0 + Y1) / 2}) rotate(-90)`)
      .attr("text-anchor", "middle").attr("font-size", 18).style("word-spacing", "8px").text(c.right.title);
  } else {
    tickAxis(svg, d3.axisRight(y), `translate(${X1},0)`, yMin, 4.8);
    tickAxis(svg, d3.axisRight(y), `translate(${X1},0)`, yMaj, 9.6);
  }

  svg.append("rect").attr("x", X0).attr("y", Y0).attr("width", X1 - X0).attr("height", Y1 - Y0)
    .attr("fill", "none").attr("stroke", "#2a2a2a").attr("stroke-width", 1.1);

  // data
  c.series.forEach(([data, style, onRight]) => {
    const ys = onRight ? yr : y;
    const line = d3.line().x(d => x(new Date(t0 + d[0] * 864e5))).y(d => ys(d[1]));
    const st = lineStyles[style];
    svg.append("path").datum(data).attr("d", line).attr("fill", "none")
      .attr("stroke", "#000").attr("stroke-width", st.w).attr("stroke-dasharray", st.dash)
      .attr("stroke-linejoin", "miter");
  });

  // legend
  const n = c.names.length;
  const rowY = d3.range(n).map(k => c.top ? 78 + k * 18 : 376 - (n - 1 - k) * 18);
  c.names.forEach((name, k) => {
    const st = lineStyles[c.styles[k]];
    svg.append("line").attr("x1", 126).attr("x2", 215).attr("y1", rowY[k]).attr("y2", rowY[k])
      .attr("stroke", "#1a1a1a").attr("stroke-width", 1.1).attr("stroke-dasharray", st.dash);
    svg.append("text").attr("x", 228).attr("y", rowY[k] + 5.4).attr("font-size", 15).text(name);
    if (c.last[k]) {
      svg.append("text").attr("x", c.lastX).attr("y", rowY[k] + 5.4).attr("font-size", 15).text("Last:");
      svg.append("text").attr("x", c.valX).attr("y", rowY[k] + 5.4).attr("font-size", 15).text(c.last[k]);
    }
  });
});
</script>
</body>
</html>
